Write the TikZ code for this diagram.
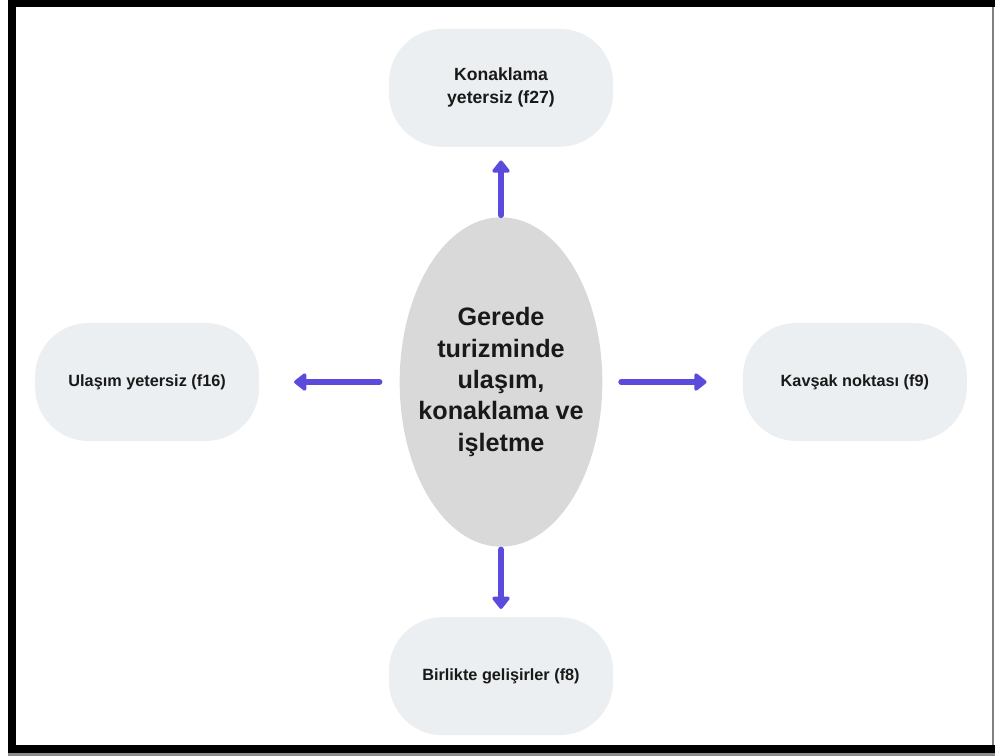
\documentclass[tikz,border=0pt]{standalone}
\usepackage{fontspec}
\setmainfont{Liberation Sans}
\usetikzlibrary{positioning,arrows.meta,shapes.geometric}
\definecolor{kutugri}{HTML}{ECEFF1}
\definecolor{merkezgri}{HTML}{D9D9D9}
\definecolor{okmor}{HTML}{5B4BDD}
\begin{document}
\begin{tikzpicture}[x=0.75pt, y=-0.75pt, node distance=52.5pt and 105pt,
  every node/.style={font=\bfseries\fontsize{12.2}{17}\selectfont, align=center, text=black!90},
  kutu/.style={fill=kutugri, rounded corners=40pt, minimum width=168pt, minimum height=88.5pt, inner sep=0pt},
  merkez/.style={ellipse, fill=merkezgri, minimum width=152pt, minimum height=247pt, inner xsep=-9pt, inner ysep=0pt,
    font=\bfseries\fontsize{18.9}{23.5}\selectfont},
  ok/.style={okmor, line width=4.5pt, line cap=round, -{Triangle[length=10pt, width=15pt, round]}}]
\useasboundingbox (0,0) rectangle (995,756);
% cerceve
\fill[black!45] (8,750) rectangle (995,756);
\draw[black!50, line width=1pt] (993,7) -- (993,749);
\draw[line width=6pt] (12,3.5) rectangle (1005,749);
\node[merkez] (g) at (501,382) {Gerede\\turizminde\\ulaşım,\\konaklama ve\\işletme};
\node[kutu, above=of g, font=\bfseries\fontsize{13.2}{17.3}\selectfont] (k) {Konaklama\\yetersiz (f27)};
\node[kutu, left=of g] (u) {Ulaşım yetersiz (f16)};
\node[kutu, right=of g] (v) {Kavşak noktası (f9)};
\node[kutu, below=of g] (b) {Birlikte gelişirler (f8)};
\draw[ok, shorten <=1.5pt, shorten >=10pt] (g) -- (k); \draw[ok, shorten <=15pt, shorten >=26pt] (g) -- (u);
\draw[ok, shorten <=14pt, shorten >=27pt] (g) -- (v); \draw[ok, shorten <=2pt, shorten >=6pt] (g) -- (b);
\end{tikzpicture}
\end{document}
